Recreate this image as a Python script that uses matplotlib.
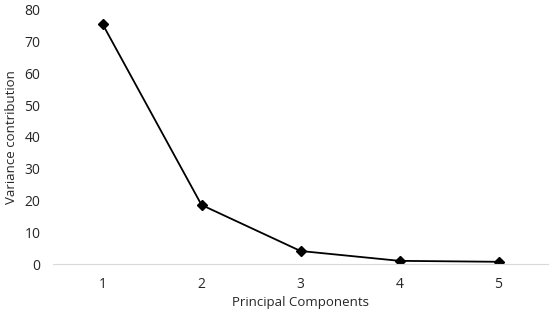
import matplotlib.pyplot as plt

# Data
components = [1, 2, 3, 4, 5]
variance = [75.6, 18.6, 4.1, 1.0, 0.7]
yticks = [0, 10, 20, 30, 40, 50, 60, 70, 80]

plt.rcParams['font.family'] = ['Open Sans', 'DejaVu Sans']

fig = plt.figure(figsize=(5.5, 3.12), dpi=100)
ax = fig.add_axes([0.0964, 0.1538, 0.9, 0.8142])

ax.plot(components, variance, color='black', linewidth=1.3,
        marker='D', markersize=5.5)

ax.set_xlim(0.5, 5.5)
ax.set_ylim(0, 80)
ax.set_xticks(components)
ax.set_yticks(yticks)
ax.tick_params(length=0, labelsize=10, colors='#262626', pad=9)
ax.tick_params(axis='x', pad=9.5)

for s in ['top', 'right', 'left']:
    ax.spines[s].set_visible(False)
ax.spines['bottom'].set_color('#d9d9d9')

ax.set_xlabel('Principal Components', fontsize=9.5, color='#262626', labelpad=3)
ax.set_ylabel('Variance contribution', fontsize=9.5, color='#262626', labelpad=5)

fig.savefig('out.png')
